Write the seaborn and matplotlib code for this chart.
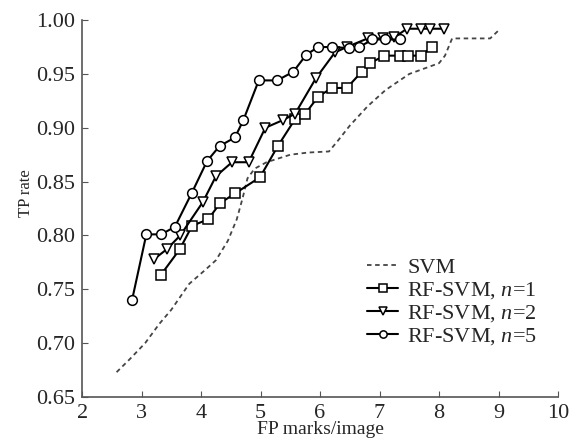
import pandas as pd
import seaborn as sns
import matplotlib
matplotlib.use('Agg')
import matplotlib.pyplot as plt

# values
svm_x = [2.58, 2.8, 3.06, 3.3, 3.5, 3.8, 4.07, 4.25, 4.45, 4.6, 4.7, 4.78, 4.9, 5.1,
         5.5, 5.8, 6.15, 6.3, 6.5, 6.8, 7.1, 7.5, 8.0, 8.1, 8.22, 8.86, 9.03]
svm_y = [0.673, 0.685, 0.700, 0.718, 0.731, 0.755, 0.768, 0.777, 0.795, 0.815, 0.835,
         0.853, 0.862, 0.868, 0.875, 0.877, 0.878, 0.888, 0.902, 0.920, 0.935, 0.950,
         0.960, 0.967, 0.983, 0.983, 0.992]

n1_x = [3.32, 3.64, 3.85, 4.12, 4.32, 4.57, 4.99, 5.29, 5.58, 5.75, 5.97, 6.20, 6.45,
        6.70, 6.84, 7.08, 7.35, 7.48, 7.70, 7.88]
n1_y = [0.763, 0.787, 0.809, 0.815, 0.830, 0.839, 0.854, 0.883, 0.908, 0.913, 0.929,
        0.937, 0.937, 0.952, 0.960, 0.967, 0.967, 0.967, 0.967, 0.975]

n2_x = [3.21, 3.42, 3.65, 4.03, 4.25, 4.52, 4.80, 5.08, 5.37, 5.58, 5.93, 6.25, 6.45,
        6.80, 7.05, 7.25, 7.46, 7.69, 7.85, 8.08]
n2_y = [0.778, 0.787, 0.800, 0.831, 0.855, 0.868, 0.868, 0.900, 0.907, 0.913, 0.946,
        0.970, 0.975, 0.983, 0.983, 0.984, 0.992, 0.992, 0.992, 0.992]

n5_x = [2.84, 3.08, 3.33, 3.56, 3.84, 4.10, 4.31, 4.57, 4.71, 4.97, 5.28, 5.55, 5.77,
        5.97, 6.20, 6.48, 6.66, 6.88, 7.10, 7.35]
n5_y = [0.740, 0.801, 0.801, 0.808, 0.839, 0.869, 0.883, 0.891, 0.907, 0.944, 0.944,
        0.952, 0.968, 0.975, 0.975, 0.974, 0.975, 0.982, 0.982, 0.982]

sns.set_style('ticks')
plt.rcParams['font.family'] = ['Liberation Serif', 'DejaVu Serif']
plt.rcParams['mathtext.fontset'] = 'custom'
plt.rcParams['mathtext.rm'] = 'Liberation Serif'
plt.rcParams['mathtext.it'] = 'Liberation Serif:italic'

fig = plt.figure(figsize=(5.7, 4.47), dpi=100)
ax = fig.add_axes([0.144, 0.112, 0.835, 0.843])

sns.lineplot(x=svm_x, y=svm_y, ax=ax, color='#444444', lw=1.3, linestyle=(0, (2.5, 2)),
             sort=False, label='SVM')
mk = dict(color='black', lw=1.5, mfc='white', mec='black', mew=1.1, ms=7, sort=False)
sns.lineplot(x=n1_x, y=n1_y, ax=ax, marker='s', label=r'RF-SVM, $n$=1', **mk)
sns.lineplot(x=n2_x, y=n2_y, ax=ax, marker='v', label=r'RF-SVM, $n$=2', **mk)
sns.lineplot(x=n5_x, y=n5_y, ax=ax, marker='o', label=r'RF-SVM, $n$=5', **mk)

ax.set_xlim(2, 10)
ax.set_ylim(0.65, 1.00)
ax.set_xticks(range(2, 11))
ax.set_yticks([0.65, 0.70, 0.75, 0.80, 0.85, 0.90, 0.95, 1.00])
ax.set_yticklabels(['%.2f' % v for v in ax.get_yticks()])
ax.tick_params(direction='in', length=4, labelsize=16, color='#555555', pad=5)
for s in ['left', 'bottom']:
    ax.spines[s].set_color('#555555')
    ax.spines[s].set_linewidth(1.2)
sns.despine(ax=ax)
ax.set_xlabel('FP marks/image', fontsize=14, labelpad=-1)
ax.set_ylabel('TP rate', fontsize=12)
ax.yaxis.set_label_coords(-0.10, 0.54)

ax.legend(loc='upper left', bbox_to_anchor=(0.58, 0.395), frameon=False, fontsize=16,
          handlelength=1.4, handletextpad=0.4, labelspacing=0.1, borderaxespad=0,
          markerscale=0.75)

fig.savefig('out.png', dpi=100)
